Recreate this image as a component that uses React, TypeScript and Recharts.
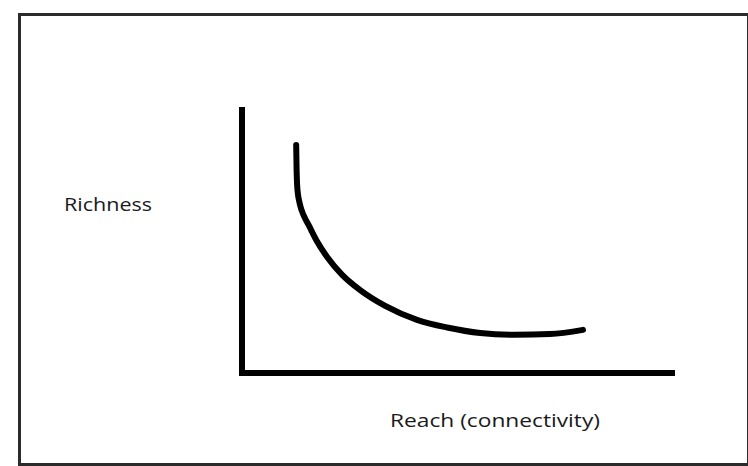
import { Label, Line, LineChart, XAxis, YAxis } from "recharts"

// richness falls off quickly as reach grows, then levels out
const reach = [12.6, 12.7, 12.9, 13.5, 14.4, 15.6, 17.4, 19.8, 23.3, 27.4, 33.3, 40.7, 47.7, 55.4, 63.5, 71.6, 79.3]
const richness = [86.7, 77.2, 69.6, 63.9, 59.7, 55.9, 50.2, 44.1, 37.3, 31.6, 25.5, 20.2, 17.3, 15.2, 14.5, 14.8, 16.4]

const xLabel = "Reach (connectivity)"
const yLabel = "Richness"

const data = reach.map((x, i) => ({ reach: x, richness: richness[i] }))

const axisStyle = { stroke: "#000", strokeWidth: 6, strokeLinecap: "square" as const }
const labelFont = "'Open Sans', 'DejaVu Sans', sans-serif"

export default function App() {
  return (
    <div style={{ position: "absolute", left: 0, top: 0, width: 748, height: 466, background: "#fff" }}>
      <div
        style={{
          position: "absolute",
          left: 18,
          top: 13,
          width: 726,
          height: 447,
          border: "3px solid #2b2b2b",
        }}
      />
      <div style={{ position: "absolute", left: 0, top: 0 }}>
        <LineChart width={748} height={466} data={data} margin={{ top: 110, right: 76, bottom: 63, left: 212 }}>
          <XAxis
            type="number"
            dataKey="reach"
            domain={[0, 100]}
            height={30}
            tick={false}
            tickLine={false}
            axisLine={axisStyle}
          >
            <Label
              content={({ viewBox }: any) => (
                <text
                  x={viewBox.x + 148}
                  y={viewBox.y + 54}
                  textLength={210}
                  lengthAdjust="spacingAndGlyphs"
                  fontFamily={labelFont}
                  fontSize={18}
                  fill="#1a1a1a"
                >
                  {xLabel}
                </text>
              )}
            />
          </XAxis>
          <YAxis
            type="number"
            dataKey="richness"
            domain={[0, 100]}
            width={30}
            tick={false}
            tickLine={false}
            axisLine={axisStyle}
          >
            <Label
              content={({ viewBox }: any) => (
                <text
                  x={viewBox.x - 148}
                  y={viewBox.y + 101}
                  textLength={88}
                  lengthAdjust="spacingAndGlyphs"
                  fontFamily={labelFont}
                  fontSize={18}
                  fill="#1a1a1a"
                >
                  {yLabel}
                </text>
              )}
            />
          </YAxis>
          <Line
            type="monotone"
            dataKey="richness"
            stroke="#000"
            strokeWidth={6}
            strokeLinecap="round"
            dot={false}
            activeDot={false}
            isAnimationActive={false}
          />
        </LineChart>
      </div>
    </div>
  )
}
